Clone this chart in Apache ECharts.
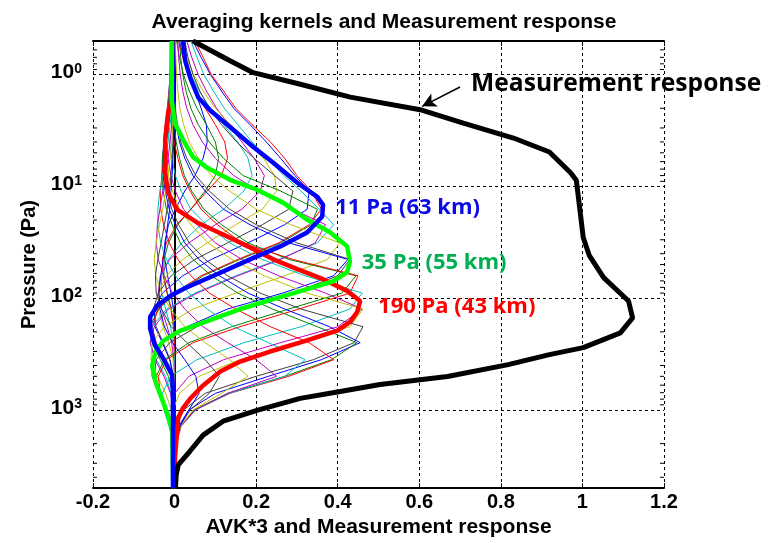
<!DOCTYPE html>
<html>
<head>
<meta charset="utf-8">
<script src="https://cdn.jsdelivr.net/npm/echarts@6/dist/echarts.min.js"></script>
<style>
  html, body { margin: 0; padding: 0; background: #ffffff; }
  #chart { width: 768px; height: 543px; }
</style>
</head>
<body>
<div id="chart"></div>
<script>
// Retrieval pressure grid (Pa), shared by the thin averaging kernels
const levels = [0.5, 0.7, 1, 1.4, 2, 2.8, 4, 5.6, 8, 11, 16, 22, 32, 45, 63, 90,
                125, 180, 250, 355, 500, 710, 1000, 1400, 2000, 2800, 4000, 5000];

// Averaging kernels (x3), one row per retrieval level, values on the grid above
const kernelRows = [
  [0.012,0.022,0.035,0.05,0.065,0.078,0.08,0.07,0.05,0.025,0.002,-0.015,-0.024,-0.024,-0.017,-0.009,-0.003,0,0,0,0,0,0,0,0,0,0,0],
  [0.005,0.012,0.022,0.036,0.055,0.078,0.1,0.108,0.1,0.075,0.04,0.008,-0.015,-0.026,-0.026,-0.018,-0.009,-0.003,0,0,0,0,0,0,0,0,0,0],
  [0.01,0.02,0.034,0.053,0.075,0.1,0.123,0.13,0.115,0.08,0.04,0.005,-0.02,-0.03,-0.028,-0.018,-0.008,-0.002,0,0,0,0,0,0,0,0,0,0],
  [0.015,0.025,0.04,0.06,0.088,0.12,0.155,0.18,0.19,0.17,0.12,0.065,0.018,-0.015,-0.032,-0.032,-0.022,-0.01,-0.003,0,0,0,0,0,0,0,0,0],
  [0.03,0.042,0.058,0.078,0.103,0.133,0.165,0.195,0.22,0.21,0.165,0.1,0.035,-0.012,-0.035,-0.04,-0.032,-0.018,-0.007,-0.002,0,0,0,0,0,0,0,0],
  [0.02,0.03,0.047,0.07,0.1,0.137,0.178,0.218,0.245,0.25,0.215,0.15,0.08,0.02,-0.02,-0.04,-0.04,-0.028,-0.014,-0.004,0,0,0,0,0,0,0,0],
  [0.025,0.033,0.045,0.062,0.085,0.115,0.152,0.195,0.245,0.29,0.28,0.215,0.13,0.05,-0.008,-0.04,-0.052,-0.045,-0.028,-0.011,-0.003,0,0,0,0,0,0,0],
  [0.045,0.065,0.088,0.115,0.145,0.185,0.225,0.26,0.295,0.33,0.325,0.27,0.18,0.09,0.02,-0.03,-0.05,-0.048,-0.03,-0.012,-0.003,0,0,0,0,0,0,0],
  [0.012,0.015,0.02,0.028,0.04,0.058,0.085,0.12,0.168,0.26,0.35,0.335,0.26,0.16,0.07,0.005,-0.04,-0.06,-0.055,-0.035,-0.015,-0.005,-0.001,0,0,0,0,0],
  [0.05,0.07,0.09,0.12,0.15,0.19,0.235,0.27,0.3,0.335,0.36,0.33,0.255,0.155,0.065,0,-0.04,-0.055,-0.045,-0.025,-0.008,-0.002,0,0,0,0,0,0],
  [0.04,0.055,0.072,0.095,0.122,0.155,0.19,0.228,0.268,0.31,0.355,0.39,0.35,0.255,0.15,0.05,-0.02,-0.055,-0.06,-0.045,-0.022,-0.008,-0.002,0,0,0,0,0],
  [0.008,0.01,0.014,0.02,0.03,0.045,0.068,0.1,0.145,0.205,0.29,0.37,0.345,0.26,0.155,0.055,-0.015,-0.05,-0.06,-0.048,-0.026,-0.01,-0.003,0,0,0,0,0],
  [0.002,0.003,0.005,0.008,0.013,0.022,0.036,0.058,0.09,0.135,0.2,0.285,0.405,0.375,0.27,0.15,0.045,-0.025,-0.055,-0.058,-0.042,-0.022,-0.008,-0.002,0,0,0,0],
  [-0.002,-0.002,-0.001,0,0.002,0.007,0.015,0.03,0.052,0.085,0.135,0.2,0.3,0.43,0.4,0.29,0.16,0.055,-0.012,-0.045,-0.05,-0.036,-0.018,-0.006,-0.001,0,0,0],
  [-0.004,-0.004,-0.003,-0.002,0,0.004,0.012,0.025,0.045,0.075,0.12,0.185,0.28,0.425,0.39,0.265,0.13,0.03,-0.03,-0.055,-0.055,-0.038,-0.018,-0.006,-0.001,0,0,0],
  [-0.006,-0.007,-0.007,-0.006,-0.004,-0.001,0.004,0.012,0.024,0.042,0.072,0.115,0.18,0.28,0.445,0.41,0.28,0.14,0.035,-0.025,-0.045,-0.04,-0.024,-0.01,-0.003,0,0,0],
  [-0.007,-0.009,-0.01,-0.01,-0.009,-0.006,-0.001,0.008,0.02,0.038,0.065,0.105,0.165,0.29,0.45,0.43,0.305,0.16,0.045,-0.02,-0.04,-0.035,-0.02,-0.008,-0.002,0,0,0],
  [-0.005,-0.008,-0.011,-0.014,-0.016,-0.016,-0.013,-0.007,0.002,0.016,0.04,0.078,0.135,0.215,0.32,0.46,0.43,0.31,0.17,0.055,-0.01,-0.03,-0.026,-0.013,-0.004,-0.001,0,0],
  [-0.004,-0.007,-0.01,-0.014,-0.018,-0.02,-0.02,-0.016,-0.009,0.002,0.022,0.055,0.1,0.165,0.255,0.37,0.46,0.4,0.26,0.12,0.035,0,-0.008,-0.005,-0.001,0,0,0],
  [-0.003,-0.005,-0.008,-0.012,-0.017,-0.021,-0.023,-0.021,-0.015,-0.005,0.012,0.04,0.082,0.14,0.22,0.325,0.462,0.43,0.3,0.16,0.06,0.012,-0.004,-0.004,-0.001,0,0,0],
  [-0.002,-0.004,-0.007,-0.012,-0.017,-0.023,-0.027,-0.028,-0.025,-0.018,-0.007,0.01,0.036,0.075,0.13,0.21,0.31,0.462,0.44,0.34,0.2,0.075,0.022,0.005,0.001,0,0,0],
  [-0.001,-0.003,-0.006,-0.01,-0.015,-0.021,-0.026,-0.029,-0.028,-0.023,-0.013,0.002,0.025,0.06,0.11,0.18,0.27,0.38,0.455,0.36,0.23,0.1,0.035,0.01,0.002,0,0,0],
  [-0.001,-0.002,-0.004,-0.008,-0.013,-0.019,-0.025,-0.03,-0.031,-0.028,-0.02,-0.006,0.014,0.045,0.09,0.155,0.24,0.35,0.447,0.385,0.27,0.13,0.048,0.014,0.003,0,0,0],
  [0,-0.001,-0.003,-0.005,-0.009,-0.014,-0.02,-0.026,-0.031,-0.035,-0.034,-0.027,-0.013,0.008,0.04,0.085,0.15,0.235,0.33,0.39,0.28,0.135,0.05,0.014,0.003,0,0,0],
  [0,0,-0.002,-0.004,-0.007,-0.011,-0.016,-0.022,-0.029,-0.036,-0.041,-0.041,-0.034,-0.02,0.002,0.035,0.08,0.145,0.23,0.32,0.27,0.135,0.052,0.016,0.004,0.001,0,0],
  [0,0,-0.001,-0.002,-0.004,-0.007,-0.011,-0.016,-0.022,-0.029,-0.036,-0.042,-0.045,-0.04,-0.026,-0.005,0.025,0.07,0.13,0.2,0.25,0.13,0.05,0.016,0.004,0.001,0,0],
  [0,0,0,-0.001,-0.002,-0.004,-0.007,-0.011,-0.016,-0.022,-0.029,-0.037,-0.045,-0.05,-0.046,-0.032,-0.01,0.025,0.075,0.135,0.18,0.115,0.045,0.015,0.004,0.001,0,0],
  [0,0,0,0,-0.001,-0.002,-0.004,-0.006,-0.009,-0.013,-0.018,-0.025,-0.033,-0.041,-0.047,-0.045,-0.032,-0.008,0.03,0.075,0.11,0.085,0.038,0.013,0.004,0.001,0,0],
  [0,0,0,0,0,-0.001,-0.002,-0.004,-0.006,-0.009,-0.012,-0.017,-0.022,-0.028,-0.034,-0.038,-0.036,-0.025,-0.005,0.025,0.052,0.06,0.035,0.013,0.004,0.001,0,0]
];

// Line colour order used for the thin kernels
const kernelColors = ['#0000ff', '#008000', '#ff0000', '#00bfbf', '#bf00bf', '#bfbf00', '#404040'];

// Highlighted kernel for 11 Pa (63 km)
const k11P = [0.5, 0.75, 1.06, 1.6, 2.08, 2.94, 4.44, 6.15, 9.27, 12.4, 14.6, 18.6, 25.8, 34.4, 44.9, 61, 79.5, 95.5, 117, 147, 187, 264, 344, 486, 676, 5000];
const k11V = [0.021, 0.026, 0.038, 0.058, 0.087, 0.136, 0.193, 0.242, 0.301, 0.35, 0.364, 0.362, 0.325, 0.259, 0.185, 0.104, 0.031, -0.011, -0.043, -0.06, -0.06, -0.048, -0.028, -0.006, -0.004, -0.004];

// Highlighted kernel for 35 Pa (55 km)
const k35P = [0.5, 1.7, 2.72, 3.85, 5.44, 6.82, 8.73, 10.7, 13.96, 19.8, 25.8, 34.4, 46.8, 58.6, 70.5, 83, 102, 125, 160, 196, 240, 302, 402, 557, 794, 1125, 1550, 2340, 5000];
const k35V = [-0.007, -0.007, 0.001, 0.021, 0.045, 0.08, 0.136, 0.202, 0.266, 0.325, 0.382, 0.423, 0.43, 0.423, 0.389, 0.325, 0.242, 0.161, 0.08, 0.013, -0.027, -0.047, -0.055, -0.047, -0.031, -0.016, -0.006, -0.005, -0.003];

// Highlighted kernel for 190 Pa (43 km)
const k190P = [0.5, 1.7, 2.21, 3.85, 7.55, 11.4, 16.1, 21, 26.9, 35.1, 44.9, 55, 67.6, 86, 106, 132, 162, 195, 245, 300, 369, 453, 603, 794, 957, 1170, 1550, 2690, 5000];
const k190V = [-0.006, -0.008, -0.016, -0.023, -0.023, -0.016, 0.006, 0.055, 0.119, 0.185, 0.242, 0.301, 0.364, 0.423, 0.455, 0.448, 0.431, 0.399, 0.315, 0.234, 0.161, 0.112, 0.07, 0.038, 0.021, 0.009, 0.006, 0.001, 0];

// Measurement response (sum of kernel rows)
const respP = [0.5, 0.75, 0.96, 1.2, 1.59, 2.06, 2.72, 3.69, 4.92, 7.55, 8.81, 15.3, 28.6, 41.7, 65.5, 106, 150, 204, 277, 320, 393, 501, 591, 683, 787, 1007, 1260, 1680, 2330, 3100, 3800, 5000];
const respV = [0.045, 0.136, 0.193, 0.301, 0.431, 0.602, 0.708, 0.831, 0.919, 0.971, 0.985, 0.993, 1.002, 1.017, 1.052, 1.113, 1.123, 1.093, 1.002, 0.919, 0.818, 0.669, 0.504, 0.406, 0.308, 0.202, 0.119, 0.07, 0.038, 0.009, 0.004, 0.002];

// Minor tick positions on the pressure axis
const minorTicks = [0.6, 0.7, 0.8, 0.9, 2, 3, 4, 5, 6, 7, 8, 9, 20, 30, 40, 50, 60, 70, 80, 90,
                    200, 300, 400, 500, 600, 700, 800, 900, 2000, 3000, 4000];

const X_MIN = -0.2, X_MAX = 1.2, X_STEP = 0.2;
const P_MIN = 0.5, P_MAX = 5000;

const axisFont = 'Liberation Sans, Arial, sans-serif';
const noteFont = 'Open Sans, sans-serif';

const pairs = (ps, vs) => ps.map((p, i) => [vs[i], p]);

const series = [];

kernelRows.forEach((row, k) => {
  series.push({
    type: 'line',
    data: row.map((v, i) => [v, levels[i]]),
    showSymbol: false,
    silent: true,
    z: 2,
    lineStyle: { color: kernelColors[k % kernelColors.length], width: 1 }
  });
});

function note(text, coord, color, size) {
  return {
    symbol: 'circle', symbolSize: 0, silent: true,
    data: [{ coord: coord }],
    label: { show: true, position: 'right', distance: 0, formatter: text,
             color: color, fontSize: size, fontWeight: 'bold', fontFamily: noteFont }
  };
}

series.push({
  type: 'line', name: '190 Pa', data: pairs(k190P, k190V),
  showSymbol: false, silent: true, z: 3,
  lineStyle: { color: '#ff0000', width: 4.5 },
  markPoint: note('190 Pa (43 km)', [0.499, 119.7], '#ff0000', 22)
});

series.push({
  type: 'line', name: '35 Pa', data: pairs(k35P, k35V),
  showSymbol: false, silent: true, z: 4,
  lineStyle: { color: '#00ff00', width: 4.5 },
  markPoint: note('35 Pa (55 km)', [0.459, 47.7], '#00b050', 22)
});

series.push({
  type: 'line', name: '11 Pa', data: pairs(k11P, k11V),
  showSymbol: false, silent: true, z: 5,
  lineStyle: { color: '#0000ff', width: 4.5 },
  markPoint: note('11 Pa (63 km)', [0.394, 15.5], '#0a0ae6', 22)
});

series.push({
  type: 'line', name: 'Measurement response', data: pairs(respP, respV),
  showSymbol: false, silent: true, z: 4,
  lineStyle: { color: '#000000', width: 5 },
  markPoint: note('Measurement response', [0.727, 1.2], '#000000', 24.6),
  markLine: {
    silent: true, symbol: ['none', 'arrow'], symbolSize: [11, 14],
    label: { show: false },
    lineStyle: { color: '#000000', width: 1.5, type: 'solid' },
    data: [[{ coord: [0.70, 1.29] }, { coord: [0.607, 1.92] }]]
  }
});

// Minor ticks on the left and right frame of the pressure axis
series.push({
  type: 'custom', silent: true, z: 6,
  data: minorTicks.map(p => [X_MIN, p]),
  renderItem: (params, api) => {
    const y = api.coord([api.value(0), api.value(1)])[1];
    const cs = params.coordSys;
    return {
      type: 'group',
      children: [
        { type: 'line', shape: { x1: cs.x, y1: y, x2: cs.x + 4, y2: y }, style: { stroke: '#000', lineWidth: 1 } },
        { type: 'line', shape: { x1: cs.x + cs.width, y1: y, x2: cs.x + cs.width - 4, y2: y }, style: { stroke: '#000', lineWidth: 1 } }
      ]
    };
  }
});

const gridLine = { show: true, lineStyle: { color: '#000000', width: 1, type: [3, 3] } };

const option = {
  backgroundColor: '#ffffff',
  animation: false,
  title: {
    text: 'Averaging kernels and Measurement response',
    left: 'center', top: 7,
    textStyle: { fontFamily: axisFont, fontSize: 21, fontWeight: 'bold', color: '#000' }
  },
  grid: { left: 93, right: 104, top: 41, bottom: 53, containLabel: false },
  xAxis: [
    {
      type: 'value', min: X_MIN, max: X_MAX, interval: X_STEP, position: 'bottom',
      name: 'AVK*3 and Measurement response', nameLocation: 'middle', nameGap: 27,
      nameTextStyle: { fontFamily: axisFont, fontSize: 21, fontWeight: 'bold', color: '#000' },
      axisLine: { show: true, lineStyle: { color: '#000', width: 2 } },
      axisTick: { show: true, inside: true, length: 5, lineStyle: { color: '#000', width: 1 } },
      axisLabel: { margin: 4, fontFamily: axisFont, fontSize: 20, fontWeight: 'bold', color: '#000',
                   formatter: v => String(Math.round(v * 10) / 10) },
      splitLine: gridLine
    },
    {
      type: 'value', min: X_MIN, max: X_MAX, interval: X_STEP, position: 'top',
      axisLine: { show: true, lineStyle: { color: '#000', width: 2 } },
      axisTick: { show: true, inside: true, length: 5, lineStyle: { color: '#000', width: 1 } },
      axisLabel: { show: false }, splitLine: { show: false }
    }
  ],
  yAxis: [
    {
      type: 'log', logBase: 10, min: P_MIN, max: P_MAX, inverse: true, position: 'left',
      name: 'Pressure (Pa)', nameLocation: 'middle', nameGap: 54, nameRotate: 90,
      nameTextStyle: { fontFamily: axisFont, fontSize: 20, fontWeight: 'bold', color: '#000' },
      axisLine: { show: true, lineStyle: { color: '#000', width: 2 } },
      axisTick: { show: true, inside: true, length: 6, lineStyle: { color: '#000', width: 1 } },
      axisLabel: {
        margin: 11, showMinLabel: false, showMaxLabel: false, padding: [0, 0, 4, 0],
        formatter: v => {
          const e = Math.round(Math.log10(v));
          if (Math.abs(v - Math.pow(10, e)) > 1e-6 * v) return '';
          return '{b|10}{s|' + e + '}';
        },
        rich: {
          b: { fontFamily: axisFont, fontSize: 21, fontWeight: 'bold', color: '#000',
               lineHeight: 21, verticalAlign: 'bottom', padding: [6, 0, 0, 0] },
          s: { fontFamily: axisFont, fontSize: 14, fontWeight: 'bold', color: '#000',
               lineHeight: 14, verticalAlign: 'top' }
        }
      },
      splitLine: gridLine
    },
    {
      type: 'log', logBase: 10, min: P_MIN, max: P_MAX, inverse: true, position: 'right',
      axisLine: { show: true, lineStyle: { color: '#000', width: 2 } },
      axisTick: { show: true, inside: true, length: 6, lineStyle: { color: '#000', width: 1 } },
      axisLabel: { show: false }, splitLine: { show: false }
    }
  ],
  series: series
};

const chart = echarts.init(document.getElementById('chart'), null, { renderer: 'canvas' });
chart.setOption(option);
</script>
</body>
</html>
